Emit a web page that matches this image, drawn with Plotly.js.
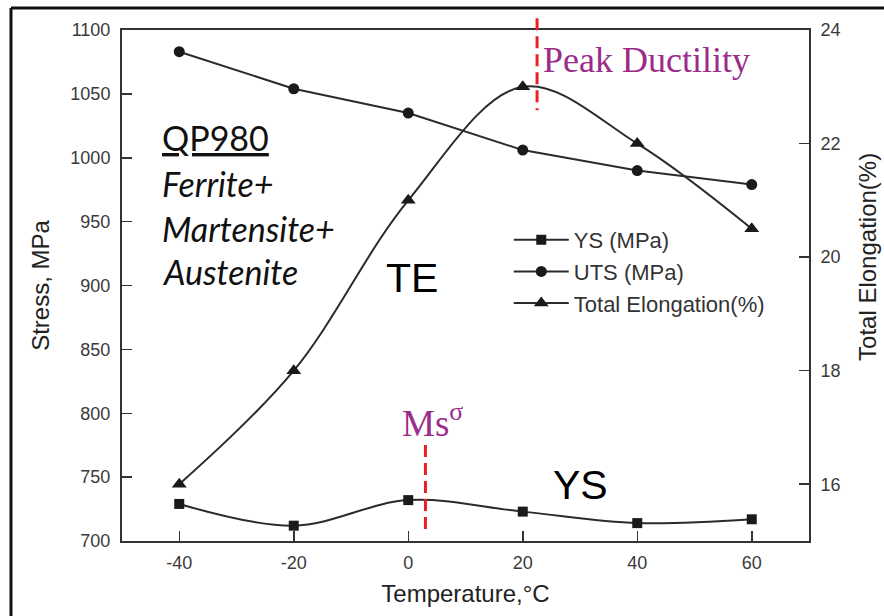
<!DOCTYPE html>
<html>
<head>
<meta charset="utf-8">
<script src="https://cdn.plot.ly/plotly-3.0.1.min.js"></script>
<style>html,body{margin:0;padding:0;background:#fff;}#chart{width:884px;height:616px;}</style>
</head>
<body>
<div id="chart"></div>
<script>
// Data
const temperature = [-40, -20, 0, 20, 40, 60];
const ysMPa = [729, 712, 732, 723, 714, 717];
const utsMPa = [1083, 1054, 1035, 1006, 990, 979];
const totalElongation = [16.0, 18.0, 21.0, 23.0, 22.0, 20.5];
const xTicks = [-40, -20, 0, 20, 40, 60];
const leftTicks = [700, 750, 800, 850, 900, 950, 1000, 1050, 1100];
const rightTicks = [16, 18, 20, 22, 24];
const peakDuctilityT = 22.5;
const msSigmaT = 3;

const lineColor = '#2b2b2b';
const purple = '#9B2C88';
const red = '#E8202A';

const traces = [
  {x: temperature, y: ysMPa, name: 'YS (MPa)', type: 'scatter', mode: 'lines+markers',
   line: {color: lineColor, width: 2, shape: 'spline', smoothing: 1},
   marker: {symbol: 'square', size: 10, color: '#1a1a1a'}},
  {x: temperature, y: utsMPa, name: 'UTS (MPa)', type: 'scatter', mode: 'lines+markers',
   line: {color: lineColor, width: 2},
   marker: {symbol: 'circle', size: 11, color: '#1a1a1a'}},
  {x: temperature, y: totalElongation, name: 'Total Elongation(%)', type: 'scatter', mode: 'lines+markers',
   yaxis: 'y2', line: {color: lineColor, width: 2, shape: 'spline', smoothing: 1},
   marker: {symbol: 'triangle-up', size: 13, color: '#1a1a1a'}}
];

const tickFont = {family: 'Liberation Sans, Arial, sans-serif', size: 18, color: '#3a3a3a'};
const titleFont = {family: 'Liberation Sans, Arial, sans-serif', size: 24, color: '#222'};

const annFont = {family: 'Lato, sans-serif', size: 34, color: '#111'};
const annotations = [
  {x: -43.4, y: 1015.5, text: '<u>QP980</u>', xanchor: 'left', yanchor: 'middle', showarrow: false, font: annFont},
  {x: -43.4, y: 980.2, text: '<i>Ferrite+</i>', xanchor: 'left', yanchor: 'middle', showarrow: false, font: annFont},
  {x: -43.4, y: 945, text: '<i>Martensite+</i>', xanchor: 'left', yanchor: 'middle', showarrow: false, font: annFont},
  {x: -43.4, y: 910.6, text: '<i>Austenite</i>', xanchor: 'left', yanchor: 'middle', showarrow: false, font: annFont},
  {x: 0.65, y: 905.9, text: 'TE', showarrow: false, xanchor: 'center', yanchor: 'middle',
   font: {family: 'Liberation Sans, Arial, sans-serif', size: 41, color: '#000'}},
  {x: 30.0, y: 743.8, text: 'YS', showarrow: false, xanchor: 'center', yanchor: 'middle',
   font: {family: 'Liberation Sans, Arial, sans-serif', size: 41, color: '#000'}},
  {x: 23.2, y: 1076.5, text: 'Peak Ductility', showarrow: false, xanchor: 'left', yanchor: 'middle',
   font: {family: 'Liberation Serif, Times New Roman, serif', size: 36, color: purple}},
  {x: -1.44, y: 794, text: 'Ms<sup>σ</sup>', showarrow: false, xanchor: 'left', yanchor: 'middle',
   font: {family: 'Liberation Serif, Times New Roman, serif', size: 37, color: purple}},
  {xref: 'paper', yref: 'paper', x: 1.086, y: 0.556, text: 'Total Elongation(%)', textangle: -90,
   showarrow: false, xanchor: 'center', yanchor: 'middle', font: titleFont}
];

const shapes = [
  {type: 'line', xref: 'x', yref: 'paper', x0: peakDuctilityT, x1: peakDuctilityT, y0: 1.023, y1: 0.843,
   line: {color: red, width: 3, dash: '12px,6px'}},
  {type: 'line', xref: 'x', yref: 'paper', x0: msSigmaT, x1: msSigmaT, y0: 0.188, y1: 0.02,
   line: {color: red, width: 3, dash: '12px,6px'}},
  // outer frame of the figure
  {type: 'line', xref: 'paper', yref: 'paper', x0: -0.1616, x1: 1.12, y0: 1.043, y1: 1.043,
   line: {color: '#111', width: 3}},
  {type: 'line', xref: 'paper', yref: 'paper', x0: -0.1616, x1: -0.1616, y0: 1.043, y1: -0.16,
   line: {color: '#111', width: 3}}
];

const layout = {
  width: 884, height: 616,
  margin: {l: 122, r: 75, t: 30, b: 75},
  paper_bgcolor: '#fff', plot_bgcolor: '#fff',
  showlegend: true,
  hovermode: false,
  legend: {x: 0.563, y: 0.63, xanchor: 'left', yanchor: 'top', bgcolor: 'rgba(0,0,0,0)',
           font: {family: 'Liberation Sans, Arial, sans-serif', size: 22, color: '#333'},
           itemwidth: 55, tracegroupgap: 0},
  xaxis: {range: [-50, 70], tickvals: xTicks, ticktext: xTicks.map(String),
          showgrid: false, zeroline: false, showline: true, linecolor: '#333', linewidth: 2,
          mirror: true, ticks: 'inside', ticklen: 10, tickwidth: 1.5, tickcolor: '#333',
          tickfont: tickFont, ticklabelstandoff: 4,
          title: {text: 'Temperature,°C', font: titleFont, standoff: 14}},
  yaxis: {range: [700, 1100], tickvals: leftTicks, ticktext: leftTicks.map(String),
          showgrid: false, zeroline: false, showline: true, linecolor: '#333', linewidth: 2,
          ticks: 'inside', ticklen: 10, tickwidth: 1.5, tickcolor: '#333',
          tickfont: tickFont, ticklabelstandoff: 6,
          title: {text: 'Stress, MPa', font: titleFont, standoff: 14}},
  yaxis2: {range: [15, 24], tickvals: rightTicks, ticktext: rightTicks.map(String),
           overlaying: 'y', side: 'right',
           showgrid: false, zeroline: false, showline: true, linecolor: '#333', linewidth: 2,
           ticks: 'inside', ticklen: 10, tickwidth: 1.5, tickcolor: '#333',
           tickfont: tickFont, ticklabelstandoff: 6},
  annotations: annotations,
  shapes: shapes
};

Plotly.newPlot('chart', traces, layout, {staticPlot: true, displayModeBar: false});
</script>
</body>
</html>
